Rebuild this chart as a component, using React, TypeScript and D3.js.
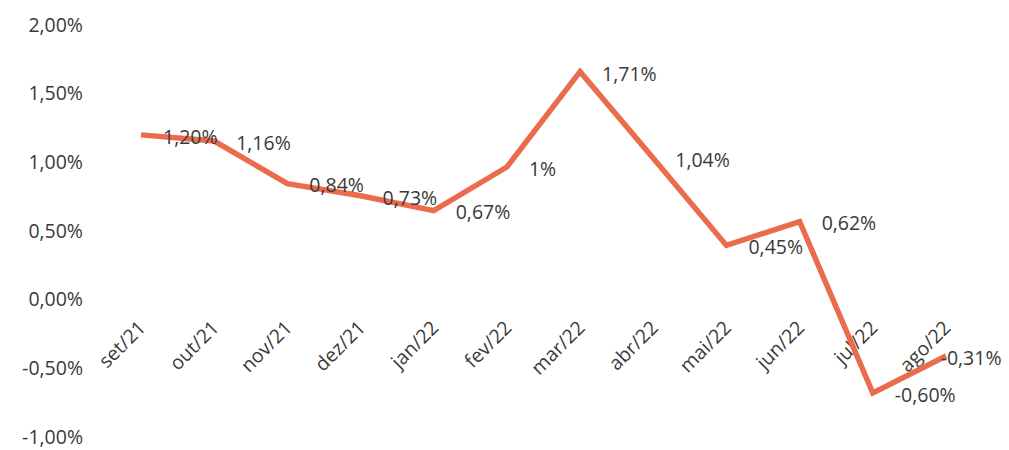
import React from "react";
import * as d3 from "d3";

const months = ["set/21", "out/21", "nov/21", "dez/21", "jan/22", "fev/22", "mar/22", "abr/22", "mai/22", "jun/22", "jul/22", "ago/22"];
const values = [1.2, 1.155, 0.845, 0.757, 0.648, 0.966, 1.66, 1.03, 0.395, 0.569, -0.68, -0.41];
const valueLabels = ["1,20%", "1,16%", "0,84%", "0,73%", "0,67%", "1%", "1,71%", "1,04%", "0,45%", "0,62%", "-0,60%", "-0,31%"];
const yTicks = [-1, -0.5, 0, 0.5, 1, 1.5, 2];

const W = 1009;
const H = 450;
const FONT = "'Open Sans', sans-serif";
const FS = 19.5;
const TEXT = "#3a3a3a";
const LINE = "#EB6C4D";

export default function App() {
  const x = d3.scalePoint<string>().domain(months).range([141, 946]);
  const y = d3.scaleLinear().domain([-1, 2]).range([437, 25]);
  const fmt = (v: number) => v.toFixed(2).replace(".", ",") + "%";
  const line = d3
    .line<number>()
    .x((_, i) => x(months[i]) as number)
    .y((d) => y(d));
  const approxWidth = (s: string) => s.length * FS * 0.55;

  return (
    <svg width={W} height={H} style={{ position: "absolute", left: 0, top: 0, background: "#fff" }}>
      <rect width={W} height={H} fill="#fff" />
      {yTicks.map((t) => (
        <text key={t} x={83} y={y(t)} dy="0.35em" textAnchor="end" fontFamily={FONT} fontSize={FS} fill={TEXT}>
          {fmt(t)}
        </text>
      ))}
      {months.map((m) => (
        <text
          key={m}
          transform={`translate(${(x(m) as number) + 6},${329}) rotate(-45)`}
          textAnchor="end"
          fontFamily={FONT}
          fontSize={FS}
          fill={TEXT}
        >
          {m}
        </text>
      ))}
      <path d={line(values) || ""} fill="none" stroke={LINE} strokeWidth={5.5} strokeLinejoin="miter" />
      {values.map((v, i) => {
        const lbl = valueLabels[i];
        const lx = Math.min((x(months[i]) as number) + 22, W - 4 - approxWidth(lbl));
        return (
          <text key={i} x={lx} y={y(v) + 2} dy="0.35em" fontFamily={FONT} fontSize={FS} fill={TEXT}>
            {lbl}
          </text>
        );
      })}
    </svg>
  );
}
